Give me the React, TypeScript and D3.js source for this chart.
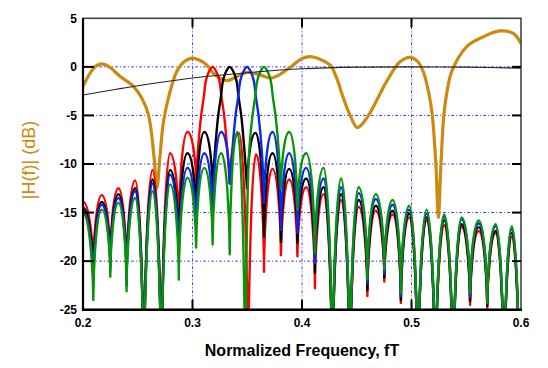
import React from 'react';
import * as d3 from 'd3';

type Pt = [number, number];

// ---- axes ----
const X_TICKS = [0.2, 0.3, 0.4, 0.5, 0.6];
const Y_TICKS = [5, 0, -5, -10, -15, -20, -25];
const GRID_X = [0.3, 0.4, 0.5];
const GRID_Y = [0, -5, -10, -15, -20];

// ---- shared null frequencies of the filter-bank responses ----
const NULL_F = [0.2094, 0.2249, 0.2398, 0.2555, 0.2715, 0.2875, 0.3033, 0.3184, 0.334, 0.3498, 0.3653, 0.3808, 0.3958, 0.4118, 0.4277, 0.4437, 0.4597, 0.4752, 0.4903, 0.5058, 0.5218, 0.538, 0.5535, 0.5692, 0.5846, 0.5985];
const RED_NULL_F = [0.2094, 0.2249, 0.2398, 0.2555, 0.2715, 0.2875, 0.3033, 0.3184, 0.334, 0.3508, 0.3653, 0.3808, 0.3958, 0.4118, 0.4277, 0.4437, 0.4597, 0.4752, 0.4903, 0.5058, 0.5218, 0.538, 0.5535, 0.5692, 0.5846, 0.5985];
const GREEN_NULL_F = [0.2094, 0.2249, 0.2398, 0.2555, 0.2715, 0.2875, 0.3033, 0.3184, 0.334, 0.348, 0.3653, 0.3808, 0.3958, 0.4118, 0.4277, 0.4437, 0.4597, 0.4752, 0.4903, 0.5058, 0.5218, 0.538, 0.5535, 0.5692, 0.5846, 0.5985];

// main lobe shape (offset from centre, dB)
const MAIN_DF = [-0.0137, -0.0105, -0.0082, -0.0061, -0.0034, 0, 0.0034, 0.0061, 0.0082, 0.0105, 0.0137];
const MAIN_DB = [-9.0, -5.0, -3.2, -1.4, -0.5, 0, -0.5, -1.4, -3.2, -5.0, -9.0];

// index of the null where each main lobe peaks
const RED_CENTER = 7;
const BLACK_CENTER = 8;
const BLUE_CENTER = 9;
const GREEN_CENTER = 10;

// depth at each null (dB); null at the centre index is unused
const RED_NULL_DB = [-20.6, -19.8, -21.5, -34, -34, -16.5, -11.8, 0, -12.0, -34, -21.1, -19.4, -19.5, -22.8, -34, -34, -23.6, -22.1, -24.3, -34, -34, -34, -24.5, -24.8, -34, -34];
const BLACK_NULL_DB = [-21.8, -20.5, -22.0, -34, -34, -18.5, -15.2, -12.5, 0, -12.5, -17.5, -18.0, -18.1, -21.2, -34, -34, -23.0, -21.7, -24.0, -34, -34, -34, -24.1, -24.6, -34, -34];
const BLUE_NULL_DB = [-22.8, -21.0, -22.5, -34, -34, -20.0, -16.8, -15.5, -12.0, 0, -14.0, -16.8, -17.1, -20.2, -34, -34, -22.3, -21.3, -23.6, -34, -34, -34, -23.7, -24.4, -34, -34];
const GREEN_NULL_DB = [-24.0, -21.6, -23.1, -34, -34, -21.9, -18.6, -18.3, -19.3, -34, 0, -12.5, -14.7, -19.2, -34, -34, -21.9, -20.9, -23.3, -34, -34, -34, -23.3, -24.3, -34, -34];

// sidelobe peak (dB) between null k and k+1 (main-lobe halves are 0 / unused)
const RED_LOBE_DB = [-13.2, -12.5, -11.7, -10.6, -8.9, -6.7, 0, 0, -6.8, -9.0, -10.5, -11.6, -12.4, -13.1, -13.7, -14.4, -14.8, -15.2, -15.5, -15.8, -16.3, -16.5, -16.9, -17.1, -17.5];
const BLACK_LOBE_DB = [-13.9, -13.1, -12.5, -11.6, -10.6, -8.9, -6.7, 0, 0, -6.8, -8.9, -10.5, -11.5, -12.4, -13.1, -13.7, -14.3, -14.8, -15.1, -15.5, -15.8, -16.2, -16.5, -16.9, -17.1];
const BLUE_LOBE_DB = [-14.2, -13.5, -12.8, -12.0, -11.1, -10.4, -8.9, -6.7, 0, 0, -6.7, -8.9, -10.4, -11.5, -12.4, -13.0, -13.6, -14.2, -14.7, -15.1, -15.4, -15.7, -16.1, -16.4, -16.7];
const GREEN_LOBE_DB = [-14.7, -14.0, -13.5, -12.8, -12.1, -11.4, -10.4, -8.9, -6.7, 0, 0, -6.7, -8.9, -10.4, -11.5, -12.4, -13.1, -13.7, -14.3, -14.7, -15.2, -15.5, -15.8, -16.2, -16.4];

// value at f = 0.2
const RED_EDGE_DB = -13.9;
const BLACK_EDGE_DB = -14.5;
const BLUE_EDGE_DB = -14.8;
const GREEN_EDGE_DB = -15.1;

// |H(f)| gold curve
const GOLD_F = [0.2, 0.2064, 0.212, 0.217, 0.224, 0.234, 0.246, 0.2536, 0.2597, 0.2648, 0.2675, 0.2703, 0.2733, 0.278, 0.2855, 0.292, 0.3, 0.307, 0.313, 0.319, 0.3312, 0.3404, 0.3495, 0.3616, 0.372, 0.381, 0.392, 0.4, 0.4073, 0.416, 0.4256, 0.4317, 0.4377, 0.4438, 0.4505, 0.459, 0.4773, 0.4895, 0.4993, 0.506, 0.5108, 0.516, 0.519, 0.5224, 0.5245, 0.5268, 0.5295, 0.5325, 0.5367, 0.5504, 0.5656, 0.5808, 0.593, 0.6];
const GOLD_DB = [-2.0, -0.66, 0.1, 0.3, 0.0, -1.0, -2.0, -3.2, -4.9, -9.2, -12.5, -9.2, -5.8, -3.2, -0.5, 0.5, 0.9, 0.65, 0.2, -0.66, -1.42, -1.0, -0.56, -0.83, -1.15, -0.7, 0.2, 0.85, 1.05, 0.8, 0.2, -1.17, -3.2, -4.95, -6.25, -5.3, -1.5, 0.53, 0.98, 0.5, -0.5, -2.8, -5.0, -10.3, -15.5, -10.3, -5.0, -2.5, -0.5, 2.08, 3.1, 3.7, 3.45, 2.4];

// thin black envelope
const ENV_F = [0.2, 0.25, 0.3, 0.35, 0.4, 0.45, 0.5, 0.55, 0.6];
const ENV_DB = [-2.9, -1.95, -1.15, -0.6, -0.2, -0.03, 0.0, -0.03, -0.13];

const FONT = "'Liberation Sans', Arial, Helvetica, sans-serif";

export default function App() {
  const L = 83, R = 521, T = 18.3, B = 309.7;
  const x = d3.scaleLinear().domain([0.2, 0.6]).range([L, R]);
  const y = d3.scaleLinear().domain([-25, 5]).range([B, T]);

  const curvePath = (nullF: number[], nullDb: number[], lobeDb: number[], edgeDb: number, center: number) => {
    const p = d3.path();
    const ascend = (x0: number, y0: number, x1: number, y1: number) =>
      p.bezierCurveTo(x0, y0 + 0.35 * (y1 - y0), x0 + 0.4 * (x1 - x0), y1, x1, y1);
    const descend = (x1: number, y1: number, x2: number, y2: number) =>
      p.bezierCurveTo(x1 + 0.6 * (x2 - x1), y1, x2, y2 + 0.35 * (y1 - y2), x2, y2);
    const mainLine = d3
      .line<Pt>()
      .x((d) => x(d[0]))
      .y((d) => y(d[1]))
      .curve(d3.curveCatmullRom.alpha(0.5))
      .context(p as any);
    const ex = x(0.2), ey = y(edgeDb);
    p.moveTo(ex, ey);
    descend(ex, ey, x(nullF[0]), y(nullDb[0]));
    for (let k = 0; k < nullF.length - 1; k++) {
      if (k === center - 1) {
        const pts: Pt[] = [
          [nullF[k], nullDb[k]],
          ...MAIN_DF.map((df, i) => [nullF[center] + df, MAIN_DB[i]] as Pt),
          [nullF[k + 2], nullDb[k + 2]],
        ];
        mainLine(pts);
        k++;
        continue;
      }
      const x0 = x(nullF[k]), y0 = y(nullDb[k]);
      const x2 = x(nullF[k + 1]), y2 = y(nullDb[k + 1]);
      const x1 = (x0 + x2) / 2, y1 = y(lobeDb[k]);
      p.moveTo(x0, y0);
      ascend(x0, y0, x1, y1);
      descend(x1, y1, x2, y2);
    }
    return p.toString();
  };

  const curves = [
    { color: '#ff0000', d: curvePath(RED_NULL_F, RED_NULL_DB, RED_LOBE_DB, RED_EDGE_DB, RED_CENTER) },
    { color: '#000000', d: curvePath(NULL_F, BLACK_NULL_DB, BLACK_LOBE_DB, BLACK_EDGE_DB, BLACK_CENTER) },
    { color: '#0a28f0', d: curvePath(NULL_F, BLUE_NULL_DB, BLUE_LOBE_DB, BLUE_EDGE_DB, BLUE_CENTER) },
    { color: '#089408', d: curvePath(GREEN_NULL_F, GREEN_NULL_DB, GREEN_LOBE_DB, GREEN_EDGE_DB, GREEN_CENTER) },
  ];

  const smooth = d3
    .line<Pt>()
    .x((d) => x(d[0]))
    .y((d) => y(d[1]))
    .curve(d3.curveCatmullRom.alpha(0.5));
  const goldD = smooth(GOLD_F.map((f, i) => [f, GOLD_DB[i]] as Pt)) || '';
  const envD = smooth(ENV_F.map((f, i) => [f, ENV_DB[i]] as Pt)) || '';

  const fmtX = (v: number) => v.toFixed(1);

  return (
    <svg width={548} height={368} style={{ position: 'absolute', left: 0, top: 0, background: '#fff' }} fontFamily={FONT}>
      <defs>
        <clipPath id="plot">
          <rect x={L} y={T} width={R - L} height={B - T} />
        </clipPath>
      </defs>
      {/* grid */}
      <g stroke="#2222ff" strokeWidth={1} strokeDasharray="3,2,1,2" opacity={0.85}>
        {GRID_X.map((v) => (
          <line key={'gx' + v} x1={x(v)} x2={x(v)} y1={T} y2={B} />
        ))}
        {GRID_Y.map((v) => (
          <line key={'gy' + v} x1={L} x2={R} y1={y(v)} y2={y(v)} />
        ))}
      </g>
      <g clipPath="url(#plot)" fill="none" strokeLinejoin="round" strokeLinecap="round">
        <path d={goldD} stroke="#cc8a10" strokeWidth={3.2} />
        {curves.map((c) => (
          <path key={c.color} d={c.d} stroke={c.color} strokeWidth={2.4} />
        ))}
        <path d={envD} stroke="#222" strokeWidth={1.1} />
      </g>
      {/* frame */}
      <rect x={L} y={T} width={R - L} height={B - T} fill="none" stroke="#444" strokeWidth={1.6} />
      <line x1={L} x2={L} y1={T} y2={B + 1} stroke="#000" strokeWidth={2.2} />
      <line x1={L - 1} x2={R + 1} y1={B} y2={B} stroke="#000" strokeWidth={2.4} />
      {/* ticks */}
      <g stroke="#000" strokeWidth={2}>
        {X_TICKS.slice(1, -1).map((v) => (
          <g key={'tx' + v}>
            <line x1={x(v)} x2={x(v)} y1={B} y2={B - 10} />
            <line x1={x(v)} x2={x(v)} y1={T} y2={T + 9} />
          </g>
        ))}
        {Y_TICKS.slice(1, -1).map((v) => (
          <g key={'ty' + v}>
            <line x1={L} x2={L + 11} y1={y(v)} y2={y(v)} />
            <line x1={R} x2={R - 9} y1={y(v)} y2={y(v)} />
          </g>
        ))}
      </g>
      {/* tick labels */}
      <g fontSize={12} fontWeight="bold" fill="#000">
        {X_TICKS.map((v) => (
          <text key={'lx' + v} x={x(v)} y={327} textAnchor="middle">
            {fmtX(v)}
          </text>
        ))}
        {Y_TICKS.map((v) => (
          <text key={'ly' + v} x={77} y={y(v) + 4.3} textAnchor="end">
            {String(v)}
          </text>
        ))}
      </g>
      <text x={302} y={356} textAnchor="middle" fontSize={16} fontWeight="bold" fill="#000">
        Normalized Frequency, fT
      </text>
      <text
        transform={`translate(29,160) rotate(-90)`}
        textAnchor="middle"
        dominantBaseline="central"
        fontSize={18}
        fill="#cc8a10"
      >
        |H(f)| (dB)
      </text>
    </svg>
  );
}
